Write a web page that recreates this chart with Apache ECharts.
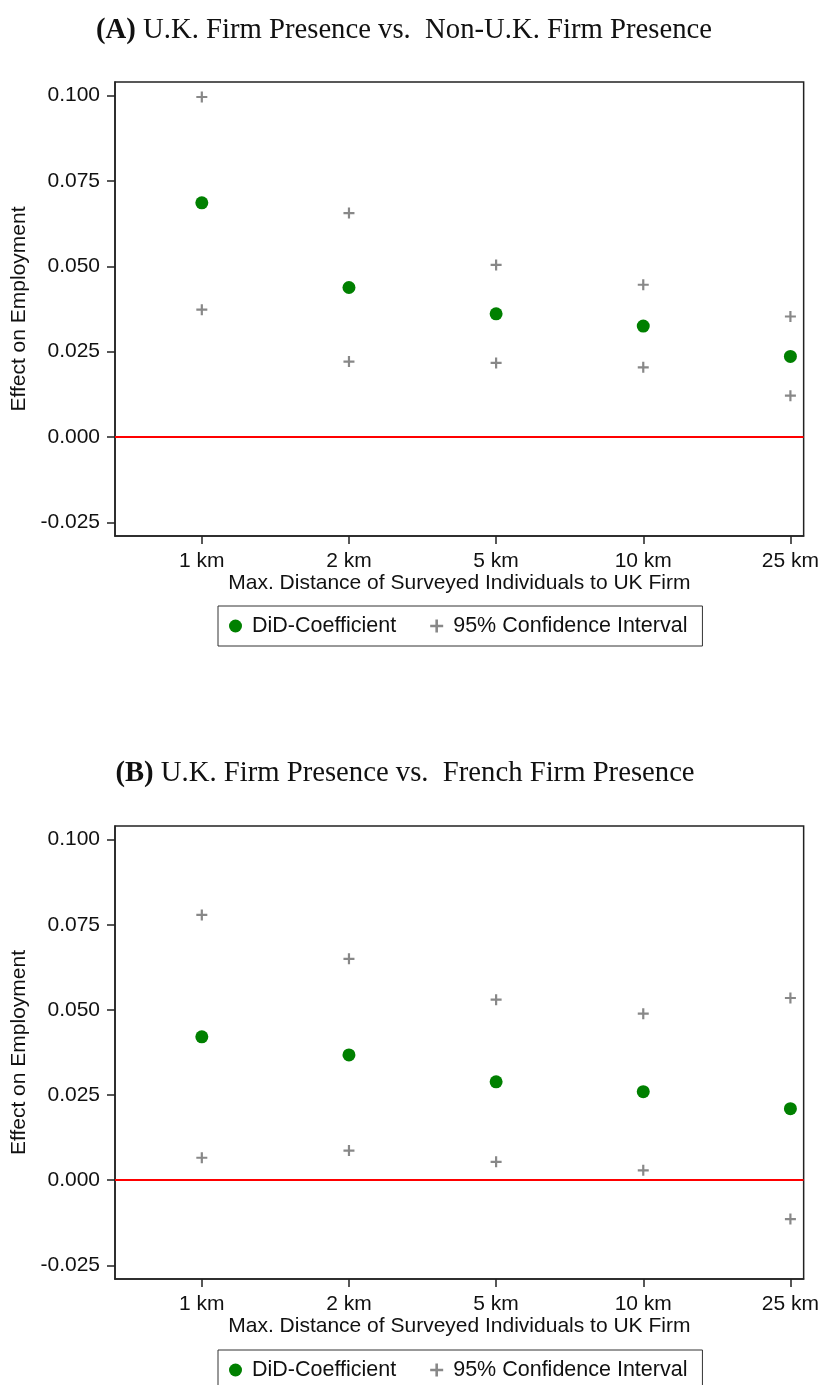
<!DOCTYPE html>
<html>
<head>
<meta charset="utf-8">
<script src="https://cdn.jsdelivr.net/npm/echarts@6.0.0/dist/echarts.min.js"></script>
<style>
  html, body { margin: 0; padding: 0; background: #fff; }
  #chart { width: 822px; height: 1385px; }
</style>
</head>
<body>
<div id="chart"></div>
<script>
// distance bands (x positions 1..5)
var distLabels = ['1 km', '2 km', '5 km', '10 km', '25 km'];
var yTicks = [-0.025, 0, 0.025, 0.05, 0.075, 0.1];

// panel A: UK vs non-UK
var coefA = [0.0686, 0.0438, 0.0361, 0.0325, 0.0236];
var upperA = [0.0996, 0.0656, 0.0504, 0.0446, 0.0353];
var lowerA = [0.0373, 0.0221, 0.0217, 0.0204, 0.0121];

// panel B: UK vs French
var coefB = [0.0421, 0.0368, 0.0289, 0.0260, 0.0210];
var upperB = [0.0779, 0.0650, 0.0530, 0.0489, 0.0535];
var lowerB = [0.0066, 0.0087, 0.0054, 0.0029, -0.0114];

var SANS = "'Liberation Sans', Arial, sans-serif";
var SERIF = "'Liberation Serif', 'Times New Roman', serif";
var PLUS = 'path://M4,0H6V4H10V6H6V10H4V6H0V4H4Z';
var GREEN = '#008000';
var GREY = '#888888';

function pts(arr) {
  return arr.map(function (v, i) { return [i + 1, v]; });
}

function xAxisFor(gi) {
  return {
    type: 'value', gridIndex: gi, min: 0.41, max: 5.09,
    name: 'Max. Distance of Surveyed Individuals to UK Firm',
    nameLocation: 'middle', nameGap: 34,
    nameTextStyle: { fontFamily: SANS, fontSize: 21, color: '#111' },
    splitLine: { show: false },
    axisLine: { onZero: false, lineStyle: { color: '#222', width: 1.5 } },
    axisTick: { customValues: [1, 2, 3, 4, 5], length: 8, lineStyle: { color: '#222', width: 1.5 } },
    axisLabel: {
      customValues: [1, 2, 3, 4, 5], margin: 15,
      fontFamily: SANS, fontSize: 21, color: '#111',
      formatter: function (v) { return distLabels[Math.round(v) - 1]; }
    }
  };
}

function yAxisFor(gi) {
  return {
    type: 'value', gridIndex: gi, min: -0.029, max: 0.104,
    name: 'Effect on Employment',
    nameLocation: 'middle', nameGap: 85, nameRotate: 90,
    nameTextStyle: { fontFamily: SANS, fontSize: 21, color: '#111' },
    splitLine: { show: false },
    axisLine: { show: true, onZero: false, lineStyle: { color: '#222', width: 1.5 } },
    axisTick: { customValues: yTicks, length: 8, lineStyle: { color: '#222', width: 1.5 } },
    axisLabel: {
      customValues: yTicks, margin: 15,
      fontFamily: SANS, fontSize: 21, color: '#111',
      formatter: function (v) { return v.toFixed(3); }
    }
  };
}

function seriesFor(gi, coef, upper, lower) {
  return [
    {
      name: 'DiD-Coefficient', type: 'scatter', xAxisIndex: gi, yAxisIndex: gi,
      symbol: 'circle', symbolSize: 13, itemStyle: { color: GREEN, opacity: 1 },
      data: pts(coef), z: 5,
      markLine: {
        silent: true, symbol: 'none', label: { show: false },
        lineStyle: { color: '#ff0000', width: 2, type: 'solid' },
        data: [{ yAxis: 0 }]
      }
    },
    {
      name: '95% Confidence Interval', type: 'scatter', xAxisIndex: gi, yAxisIndex: gi,
      symbol: PLUS, symbolSize: 11, itemStyle: { color: GREY, opacity: 1 },
      data: pts(upper).concat(pts(lower))
    }
  ];
}

function legendFor(top) {
  return {
    left: 218, top: top, orient: 'horizontal',
    padding: [9, 15, 9, 11], itemWidth: 13, itemHeight: 13, itemGap: 34,
    borderColor: '#333', borderWidth: 1,
    textStyle: { fontFamily: SANS, fontSize: 21.5, color: '#111', padding: [0, 0, 0, 5] },
    data: [
      { name: 'DiD-Coefficient', icon: 'circle', itemStyle: { color: GREEN, opacity: 1 } },
      { name: '95% Confidence Interval', icon: PLUS, itemStyle: { color: GREY, opacity: 1 } }
    ]
  };
}

var chart = echarts.init(document.getElementById('chart'), null, { renderer: 'canvas' });
var option = {
  backgroundColor: '#fff',
  animation: false,
  title: [
    {
      text: '{b|(A)} U.K. Firm Presence vs.  Non-U.K. Firm Presence',
      left: 399, top: 11, textAlign: 'center',
      textStyle: { fontFamily: SERIF, fontSize: 28.7, fontWeight: 'normal', color: '#111',
        rich: { b: { fontFamily: SERIF, fontSize: 28.7, fontWeight: 'bold', color: '#111' } } }
    },
    {
      text: '{b|(B)} U.K. Firm Presence vs.  French Firm Presence',
      left: 400, top: 754, textAlign: 'center',
      textStyle: { fontFamily: SERIF, fontSize: 28.7, fontWeight: 'normal', color: '#111',
        rich: { b: { fontFamily: SERIF, fontSize: 28.7, fontWeight: 'bold', color: '#111' } } }
    }
  ],
  grid: [
    { left: 115, top: 82, width: 690, height: 454, show: true, borderColor: '#222', borderWidth: 1.5, backgroundColor: '#fff' },
    { left: 115, top: 826, width: 690, height: 453, show: true, borderColor: '#222', borderWidth: 1.5, backgroundColor: '#fff' }
  ],
  legend: [legendFor(606), legendFor(1350)],
  xAxis: [xAxisFor(0), xAxisFor(1)],
  yAxis: [yAxisFor(0), yAxisFor(1)],
  series: seriesFor(0, coefA, upperA, lowerA).concat(seriesFor(1, coefB, upperB, lowerB))
};
chart.setOption(option);
</script>
</body>
</html>
